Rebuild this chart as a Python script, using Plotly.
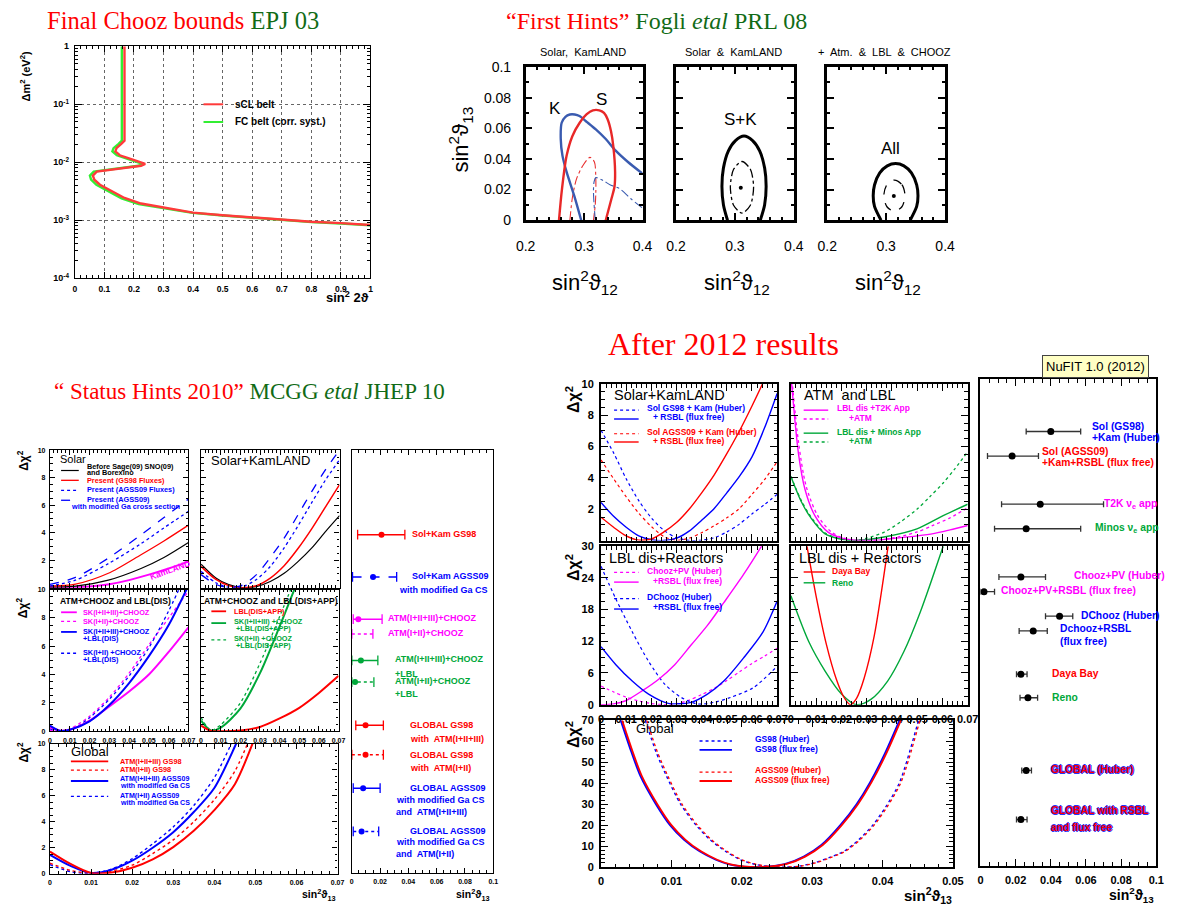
import plotly.graph_objects as go

# layout coordinates below are pixels of the 1183 x 918 figure
W, H = 1183, 918

SANS = "Liberation Sans"
SERIF = "Liberation Serif"
RED = "#ff0000"
BLUE = "#0000ff"
MAG = "#ff00ff"
GRN = "#00a83a"
TGRN = "#116b16"

# ---------------- Final CHOOZ exclusion contours (sin^2 2theta, dm^2 [eV^2]) ----------------
chooz_scl_s2t = [0.168, 0.168, 0.157, 0.141, 0.137, 0.152, 0.191, 0.238, 0.224, 0.146, 0.074, 0.061, 0.066,
                 0.085, 0.113, 0.168, 0.224, 0.30, 0.40, 0.50, 0.60, 0.70, 0.80, 0.90, 1.00]
chooz_scl_dm2 = [1.0, 0.0236, 0.0207, 0.0175, 0.0154, 0.0132, 0.0113, 0.0094, 0.0087, 0.0078, 0.0069, 0.0059,
                 0.0050, 0.0041, 0.0034, 0.00242, 0.00194, 0.00164, 0.00135, 0.00122, 0.00111, 0.00101,
                 0.00094, 0.00089, 0.00083]
chooz_fc_s2t = [0.159, 0.159, 0.148, 0.131, 0.127, 0.142, 0.181, 0.229, 0.215, 0.136, 0.064, 0.051, 0.055,
                0.073, 0.101, 0.158, 0.216, 0.295, 0.398, 0.50, 0.60, 0.70, 0.80, 0.90, 1.00]
chooz_fc_dm2 = [1.0, 0.0236, 0.0207, 0.0175, 0.0154, 0.0132, 0.0113, 0.0094, 0.0087, 0.0078, 0.0069, 0.0059,
                0.0050, 0.0041, 0.0034, 0.00238, 0.00190, 0.00162, 0.00134, 0.00121, 0.00110, 0.00100,
                0.00093, 0.00088, 0.00082]

# ---------------- "First hints": (sin^2 th12, sin^2 th13) contours ----------------
fh_kam_x = [0.295, 0.283, 0.270, 0.263, 0.260, 0.2616, 0.268, 0.2756, 0.284, 0.292, 0.305, 0.320, 0.337, 0.354, 0.375, 0.400]
fh_kam_y = [0.0, 0.016, 0.0315, 0.042, 0.0529, 0.0636, 0.0675, 0.069, 0.069, 0.068, 0.064, 0.0593, 0.053, 0.0454, 0.038, 0.0304]
fh_sol_x = [0.257, 0.262, 0.270, 0.280, 0.2924, 0.304, 0.315, 0.326, 0.334, 0.340, 0.346, 0.350, 0.353, 0.352, 0.347, 0.337]
fh_sol_y = [0.0, 0.020, 0.042, 0.055, 0.0636, 0.069, 0.0717, 0.0717, 0.070, 0.066, 0.058, 0.048, 0.0315, 0.022, 0.0143, 0.0]
fh_sol1_x = [0.2756, 0.280, 0.287, 0.298, 0.310, 0.3176, 0.320, 0.320, 0.319, 0.316]
fh_sol1_y = [0.0, 0.015, 0.027, 0.0357, 0.041, 0.038, 0.027, 0.018, 0.010, 0.0]
fh_kam1_x = [0.319, 0.316, 0.317, 0.320, 0.332, 0.345, 0.360, 0.380, 0.400]
fh_kam1_y = [0.0, 0.0186, 0.025, 0.0278, 0.026, 0.023, 0.0208, 0.014, 0.0079]

fh_sk_x = [0.2875, 0.2806, 0.278, 0.2805, 0.289, 0.301, 0.3155, 0.330, 0.342, 0.3505, 0.353, 0.3504, 0.343]
fh_sk_y = [0.0, 0.010, 0.022, 0.034, 0.0453, 0.052, 0.055, 0.052, 0.0453, 0.034, 0.022, 0.010, 0.0]
fh_sk1_x = [0.312, 0.326, 0.3317, 0.326, 0.312, 0.298, 0.2923, 0.298, 0.312]
fh_sk1_y = [0.0383, 0.0334, 0.0215, 0.0096, 0.0047, 0.0096, 0.0215, 0.0334, 0.0383]
fh_sk_best = (0.310, 0.0212)

fh_all_x = [0.2913, 0.2802, 0.278, 0.2802, 0.2891, 0.3019, 0.316, 0.3301, 0.3429, 0.3518, 0.354, 0.3518, 0.3407]
fh_all_y = [0.0, 0.009, 0.016, 0.023, 0.0309, 0.0355, 0.037, 0.0355, 0.0309, 0.023, 0.016, 0.009, 0.0]
fh_all1_x = [0.314, 0.3267, 0.332, 0.3267, 0.314, 0.3013, 0.296, 0.3013, 0.314]
fh_all1_y = [0.0262, 0.0232, 0.016, 0.0088, 0.0058, 0.0088, 0.016, 0.0232, 0.0262]
fh_all_best = (0.313, 0.0158)

# ---------------- 2010 status: delta chi^2 vs sin^2 th13 ----------------
sol10_x = [0.0, 0.0129, 0.0295, 0.046, 0.0576, 0.07]
sol10_before = [0.05, 0.12, 0.55, 1.40, 2.20, 3.29]
sol10_gs98 = [0.12, 0.26, 1.05, 2.40, 3.40, 4.55]
sol10_agss = [0.12, 0.55, 1.75, 3.20, 4.35, 5.55]
sol10_agss_ga = [0.25, 0.75, 2.15, 3.85, 5.10, 6.45]
kam10_x = [0.0, 0.01, 0.02, 0.03, 0.04, 0.05, 0.06, 0.07]
kam10_chi = [0.0, 0.02, 0.08, 0.25, 0.55, 0.95, 1.40, 1.90]

sk10_x = [0.0, 0.0075, 0.014, 0.021, 0.028, 0.035, 0.042, 0.049, 0.056, 0.063, 0.07]
sk10_before = [1.71, 0.71, 0.22, 0.0, 0.08, 0.45, 1.05, 1.90, 2.90, 4.10, 5.24]
sk10_gs98 = [1.55, 0.60, 0.15, 0.0, 0.15, 0.70, 1.60, 2.85, 4.30, 5.90, 7.50]
sk10_agss = [1.19, 0.36, 0.02, 0.08, 0.60, 1.55, 2.90, 4.50, 6.20, 7.85, 9.30]
sk10_agss_ga = [0.95, 0.24, 0.01, 0.20, 0.95, 2.20, 3.60, 5.30, 7.00, 8.60, 10.0]

atm10_x = [0.0, 0.005, 0.01, 0.02, 0.03, 0.04, 0.05, 0.06, 0.07]
atm10_sk123 = [0.28, 0.04, 0.10, 0.75, 1.75, 2.80, 4.00, 5.60, 7.34]
atm10_sk12 = [0.05, 0.0, 0.15, 1.05, 2.40, 4.10, 6.10, 8.00, 9.90]
atm10_sk123_lbl = [0.39, 0.02, 0.10, 0.70, 1.85, 3.40, 5.30, 7.50, 10.3]
atm10_sk12_lbl = [0.16, 0.02, 0.02, 0.95, 2.25, 3.90, 5.90, 8.50, 11.5]
app10_x = [0.0, 0.005, 0.01, 0.02, 0.03, 0.04, 0.05, 0.06, 0.07]
app10_lbl = [0.39, 0.02, 0.0, 0.05, 0.30, 0.90, 1.65, 2.70, 3.91]
app10_gx = [0.0, 0.005, 0.01, 0.02, 0.03, 0.04, 0.05]
app10_sk123 = [0.74, 0.05, 0.25, 1.60, 4.10, 7.40, 10.9]
app10_sk12 = [0.97, 0.05, 0.45, 2.00, 4.80, 8.10, 11.5]

glob10_x = [0.0, 0.005, 0.01, 0.015, 0.02, 0.025, 0.03, 0.035, 0.04, 0.045, 0.05]
glob10_gs98_123 = [1.70, 0.75, 0.05, 0.08, 0.45, 1.10, 2.05, 3.30, 4.90, 6.90, 10.6]
glob10_gs98_12 = [0.81, 0.25, 0.05, 0.20, 0.65, 1.55, 2.60, 4.00, 5.70, 7.90, 11.5]
glob10_agss_123 = [1.45, 0.60, 0.05, 0.30, 1.00, 2.00, 3.20, 4.75, 6.60, 9.80, 13.5]
glob10_agss_12 = [0.69, 0.15, 0.02, 0.35, 1.15, 2.30, 3.60, 5.25, 7.40, 10.6, 14.0]

# 2010 summary of sin^2 th13 ranges (best fit, 1 sigma)
res10_best = [0.021, 0.015, 0.0046, 0.0, 0.0064, 0.0023, 0.0097, 0.0097, 0.008, 0.0069]
res10_lo = [0.0041, 0.0005, 0.001, 0.0, 0.0, 0.0, 0.0028, 0.0, 0.001, 0.001]
res10_hi = [0.0375, 0.0317, 0.0214, 0.0149, 0.0184, 0.0156, 0.0223, 0.0223, 0.020, 0.019]
res10_row = [8.6, 12.9, 17.2, 18.7, 21.4, 23.6, 28.0, 31.0, 34.4, 38.8]
res10_color = [RED, BLUE, MAG, MAG, GRN, GRN, RED, RED, BLUE, BLUE]
res10_dash = ["solid", "dash", "solid", "dot", "solid", "dot", "solid", "dot", "solid", "dot"]

# ---------------- 2012 (NuFIT 1.0) ----------------
sk12_x = [0.0, 0.005, 0.01, 0.015, 0.02, 0.025, 0.03, 0.035, 0.04, 0.045, 0.05, 0.055, 0.06, 0.065, 0.07]
sk12_gs98_huber = [7.05, 5.60, 3.95, 2.55, 1.45, 0.65, 0.18, 0.01, 0.02, 0.18, 0.55, 1.05, 1.70, 2.30, 2.95]
sk12_gs98_free = [2.43, 1.55, 0.85, 0.30, 0.05, 0.0, 0.15, 0.60, 1.30, 2.05, 3.05, 4.10, 5.35, 7.20, 9.40]
sk12_agss_huber = [5.15, 3.95, 2.80, 1.75, 0.90, 0.25, 0.02, 0.15, 0.50, 0.95, 1.45, 2.05, 2.95, 3.90, 5.04]
sk12_agss_free = [1.49, 0.85, 0.30, 0.03, 0.10, 0.55, 1.15, 2.00, 3.05, 4.20, 5.55, 7.00, 8.60, 10.3, 12.2]

t2k_x = [0.0, 0.003, 0.0056, 0.0095, 0.0147, 0.02, 0.025, 0.03, 0.035, 0.0434, 0.05, 0.0564, 0.063, 0.07]
t2k_chi = [10.6, 5.56, 3.26, 1.59, 0.54, 0.17, 0.03, 0.0, 0.03, 0.19, 0.30, 0.44, 0.68, 0.96]
t2k_atm_x = [0.0, 0.003, 0.006, 0.0105, 0.016, 0.021, 0.026, 0.031, 0.036, 0.043, 0.05, 0.056, 0.063, 0.07]
t2k_atm_chi = [11.0, 6.30, 3.50, 1.62, 0.55, 0.15, 0.02, 0.0, 0.05, 0.25, 0.55, 0.95, 1.45, 2.10]
minos_x = [0.0, 0.0043, 0.0082, 0.0134, 0.0186, 0.025, 0.0369, 0.0499, 0.0603, 0.07]
minos_chi = [4.10, 2.43, 1.38, 0.44, 0.13, 0.0, 0.23, 0.75, 1.59, 2.32]
minos_atm_x = [0.0, 0.0043, 0.0082, 0.0134, 0.0186, 0.025, 0.03, 0.037, 0.0435, 0.0499, 0.055, 0.0603, 0.065, 0.07]
minos_atm_chi = [4.10, 2.50, 1.45, 0.50, 0.15, 0.0, 0.15, 0.54, 1.20, 2.00, 2.80, 3.68, 4.60, 5.67]

cpv_x = [0.0, 0.005, 0.01, 0.015, 0.02, 0.025, 0.03, 0.035, 0.04, 0.045, 0.05, 0.055, 0.06, 0.065, 0.07]
cpv_huber = [3.53, 2.40, 1.40, 0.70, 0.20, 0.02, 0.15, 0.85, 1.90, 3.10, 4.55, 6.20, 7.80, 9.20, 10.66]
cpv_free_x = [0.0, 0.005, 0.0098, 0.0163, 0.0228, 0.0293, 0.0358, 0.0423, 0.0488, 0.0566, 0.0638, 0.07]
cpv_free = [0.0, 0.15, 0.74, 2.6, 4.77, 7.56, 11.28, 15.0, 19.3, 24.6, 30.0, 35.0]
dc_huber_x = [0.0, 0.0059, 0.0124, 0.0189, 0.0254, 0.0319, 0.0384, 0.0449, 0.0514, 0.0605, 0.07]
dc_huber = [26.2, 20.0, 13.8, 8.2, 3.84, 1.36, 0.12, 0.43, 1.36, 3.2, 7.25]
dc_free_x = [0.0, 0.0059, 0.0124, 0.0189, 0.0267, 0.0358, 0.0423, 0.0488, 0.0566, 0.0644, 0.07]
dc_free = [10.97, 7.56, 4.46, 1.98, 0.25, 0.43, 1.98, 4.46, 8.8, 13.76, 19.6]
dayabay_x = [0.0060, 0.0100, 0.0140, 0.0180, 0.0210, 0.0235, 0.0260, 0.0290, 0.0330, 0.0385]
dayabay_chi = [31.0, 20.5, 11.5, 4.8, 1.4, 0.0, 1.2, 5.0, 13.0, 30.0]
reno_x = [0.0, 0.0071, 0.0136, 0.0201, 0.0259, 0.0318, 0.0383, 0.0447, 0.0512, 0.0603]
reno_chi = [20.6, 11.9, 6.32, 1.98, 0.0, 1.05, 4.46, 10.0, 17.5, 30.0]

glob12_free_x = [0.0030, 0.0045, 0.0058, 0.0080, 0.0100, 0.0120, 0.0142, 0.0165, 0.0184, 0.0205, 0.0225,
                 0.0245, 0.0265, 0.0290, 0.0315, 0.0342, 0.0365, 0.0384, 0.0405, 0.0426]
glob12_free_gs98_x = [0.0028, 0.0043, 0.0056, 0.0078, 0.0098, 0.0118, 0.0140, 0.0163, 0.0182, 0.0203, 0.0223,
                      0.0243, 0.0263, 0.0288, 0.0313, 0.0340, 0.0363, 0.0382, 0.0403, 0.0424]
glob12_free_chi = [70, 55, 43.4, 30, 20, 13, 7.5, 3.5, 1.3, 0.2, 0.0, 0.4, 1.6, 5.0, 10.5, 20, 30, 40.3, 54, 70]
glob12_huber_x = [0.0065, 0.0080, 0.0095, 0.0115, 0.0137, 0.0157, 0.0179, 0.0200, 0.0221, 0.0242, 0.0263,
                  0.0284, 0.0305, 0.0326, 0.0347, 0.0368, 0.0388, 0.0407, 0.0426, 0.0453]
glob12_huber_gs98_x = [0.0063, 0.0078, 0.0093, 0.0113, 0.0135, 0.0155, 0.0177, 0.0198, 0.0219, 0.0240, 0.0261,
                       0.0282, 0.0303, 0.0324, 0.0345, 0.0366, 0.0386, 0.0405, 0.0424, 0.0451]
glob12_huber_chi = [70, 55, 43.4, 30, 20, 13, 7.5, 3.5, 1.25, 0.2, 0.0, 0.5, 2.0, 4.5, 7.5, 13, 20, 29, 40.3, 70]

# 2012 summary of sin^2 th13 (best fit, 1 sigma range)
res12_best = [0.040, 0.018, 0.034, 0.026, 0.023, 0.002, 0.045, 0.030, 0.023, 0.027, 0.026, 0.023]
res12_lo = [0.026, 0.004, 0.012, 0.008, 0.0105, 0.0, 0.037, 0.022, 0.0205, 0.0225, 0.0235, 0.0205]
res12_hi = [0.057, 0.033, 0.070, 0.057, 0.037, 0.008, 0.0525, 0.038, 0.0265, 0.0325, 0.029, 0.0265]
res12_row = [5.3, 7.8, 12.7, 15.2, 20.1, 21.6, 24.1, 25.6, 30.0, 32.4, 39.8, 44.8]

# ---------------- helpers ----------------
fig = go.Figure()
axes = {}
annotations = []
shapes = []


def fx(px):
    return px / W


def fy(py):
    return 1 - py / H


def panel(n, l, r, t, b, xcfg, ycfg):
    s = "" if n == 1 else str(n)
    axes["xaxis" + s] = dict(xcfg, domain=[fx(l), fx(r)], anchor="y" + s)
    axes["yaxis" + s] = dict(ycfg, domain=[fy(b), fy(t)], anchor="x" + s)
    return "x" + s, "y" + s


def frame(rng, dtick=None, minor=None, labels=True, size=7, lw=1.2, tlen=5, standoff=2,
          tickvals=None, weight="bold", tickw=1):
    d = dict(range=rng, showgrid=False, zeroline=False, showline=True, mirror="ticks",
             linecolor="black", linewidth=lw, ticks="inside", ticklen=tlen, tickwidth=tickw,
             tickcolor="black", showticklabels=labels, ticklabelstandoff=standoff,
             tickfont=dict(family=SANS, size=size, color="black", weight=weight))
    if tickvals is not None:
        d["tickvals"] = tickvals
    elif dtick is not None:
        d["tick0"] = 0
        d["dtick"] = dtick
    else:
        d["ticks"] = ""
    if minor is not None:
        d["minor"] = dict(tick0=0, dtick=minor, ticks="inside", ticklen=tlen * 0.5,
                          tickwidth=tickw, tickcolor="black", showgrid=False)
    return d


def curve(xa, ya, x, y, color, dash="solid", width=1.5, shape="spline"):
    fig.add_trace(go.Scatter(x=x, y=y, xaxis=xa, yaxis=ya, mode="lines",
                             line=dict(color=color, dash=dash, width=width, shape=shape, smoothing=0.8),
                             showlegend=False, hoverinfo="skip"))


def text(px, py, s, size, color="black", anchor="left", weight="bold", family=SANS, angle=0, **font_extra):
    annotations.append(dict(x=fx(px), y=fy(py), xref="paper", yref="paper", text=s,
                            showarrow=False, xanchor=anchor, yanchor="middle", textangle=angle,
                            borderpad=0,
                            font=dict(family=family, size=size, color=color, weight=weight, **font_extra)))


def sample(x0, x1, py, color, dash="solid", width=1.5):
    shapes.append(dict(type="line", xref="paper", yref="paper", x0=fx(x0), x1=fx(x1),
                       y0=fy(py), y1=fy(py), line=dict(color=color, dash=dash, width=width)))


# ---------------- titles ----------------
def title(px, py, s, size=24):
    text(px, py, s, size, anchor="left", weight="normal", family=SERIF)


title(37, 13, f"<span style='color:{RED}'>Final Chooz bounds</span> <span style='color:{TGRN}'>EPJ 03</span>", 24.5)
title(504, 13, f"<span style='color:{RED}'>\u201cFirst Hints\u201d</span> <span style='color:{TGRN}'>Fogli <i>etal</i> PRL 08</span>")
title(44, 390, f"<span style='color:{RED}'>\u201c Status Hints 2010\u201d</span> <span style='color:{TGRN}'>MCGG <i>etal</i> JHEP 10</span>", 23)
title(608, 342, f"<span style='color:{RED}'>After 2012 results</span>", 32)

# ---------------- Final CHOOZ panel ----------------
log_minor = [m * 10.0 ** e for e in range(-4, 0) for m in range(2, 10)]
xc = frame([0, 1], dtick=0.1, minor=0.02, size=8.5, standoff=2, lw=1.2, tlen=6)
xc.update(showgrid=True, gridcolor="#666", griddash="dot", gridwidth=1)
yc = dict(type="log", range=[-4, 0], showgrid=True, gridcolor="#666", griddash="dot", gridwidth=1,
          zeroline=False, showline=True, mirror="ticks", linecolor="black", linewidth=1.2,
          ticks="inside", ticklen=7, tickcolor="black",
          tickvals=[1e-4, 1e-3, 1e-2, 1e-1, 1],
          ticktext=["10<sup>-4</sup>", "10<sup>-3</sup>", "10<sup>-2</sup>", "10<sup>-1</sup>", "1"],
          ticklabelstandoff=3,
          tickfont=dict(family=SANS, size=9, color="black", weight="bold"),
          minor=dict(tickvals=log_minor, ticks="inside", ticklen=3, tickcolor="black", showgrid=False))
xa, ya = panel(1, 66, 367, 39, 275, xc, yc)
curve(xa, ya, chooz_fc_s2t, chooz_fc_dm2, "#33ee33", width=2.4, shape="linear")
curve(xa, ya, chooz_scl_s2t, chooz_scl_dm2, "#ff3a3a", width=2.4, shape="linear")
sample(197, 217, 98, "#ff3a3a", width=2)
sample(197, 217, 116, "#33ee33", width=2)
text(228, 98, "sCL belt", 10)
text(228, 116, "FC belt (corr. syst.)", 10)
text(366, 294, "sin<sup>2</sup> 2\u03d1", 13, anchor="right")
text(15, 70, "\u0394m<sup>2</sup> (eV<sup>2</sup>)", 11, anchor="center", angle=-90)

# ---------------- First hints panels ----------------
fh_boxes = [(525, 644), (678, 798), (832, 952)]
fh_axes = []
for i, (l, r) in enumerate(fh_boxes):
    xcfg = frame([0.2, 0.4], dtick=0.1, minor=0.02, size=14, lw=2.5, tlen=7, standoff=11,
                 weight="normal", tickw=1.5)
    ycfg = frame([0, 0.1], dtick=0.02, minor=0.01, size=14, lw=2.5, tlen=7, standoff=9,
                 labels=(i == 0), weight="normal", tickw=1.5)
    fh_axes.append(panel(2 + i, l, r, 60, 216, xcfg, ycfg))

xa, ya = fh_axes[0]
curve(xa, ya, fh_sol1_x, fh_sol1_y, "#e83030", dash="dashdot", width=1.1)
curve(xa, ya, fh_kam1_x, fh_kam1_y, "#3a5bb0", dash="dashdot", width=1.1)
curve(xa, ya, fh_kam_x, fh_kam_y, "#3a5bb0", width=2.4)
curve(xa, ya, fh_sol_x, fh_sol_y, "#e82828", width=2.4)
xa, ya = fh_axes[1]
curve(xa, ya, fh_sk_x, fh_sk_y, "black", width=3)
curve(xa, ya, fh_sk1_x, fh_sk1_y, "black", dash="dashdot", width=1.3)
fig.add_trace(go.Scatter(x=[fh_sk_best[0]], y=[fh_sk_best[1]], xaxis=xa, yaxis=ya, mode="markers",
                         marker=dict(color="black", size=4), showlegend=False, hoverinfo="skip"))
xa, ya = fh_axes[2]
curve(xa, ya, fh_all_x, fh_all_y, "black", width=3)
curve(xa, ya, fh_all1_x, fh_all1_y, "black", dash="dash", width=1.3)
fig.add_trace(go.Scatter(x=[fh_all_best[0]], y=[fh_all_best[1]], xaxis=xa, yaxis=ya, mode="markers",
                         marker=dict(color="black", size=4), showlegend=False, hoverinfo="skip"))

for (xa_, ya_), lab, lx, ly in [(fh_axes[0], "K", 0.2504, 0.0726), (fh_axes[0], "S", 0.330, 0.0786),
                                (fh_axes[1], "S+K", 0.309, 0.0657), (fh_axes[2], "All", 0.3076, 0.0465)]:
    annotations.append(dict(x=lx, y=ly, xref=xa_, yref=ya_, text=lab, showarrow=False,
                            font=dict(family=SANS, size=17, color="black")))

text(583, 45, "Solar,  KamLAND", 11, anchor="center", weight="normal")
text(737, 45, "Solar  &  KamLAND", 11, anchor="center", weight="normal")
text(890, 45, "+  Atm.  &  LBL  &  CHOOZ", 11, anchor="center", weight="normal")
for cx in (585, 740, 894):
    text(cx, 279, "sin<sup>2</sup>\u03d1<sub>12</sub>", 22, anchor="center", weight="normal")
text(459, 134, "sin<sup>2</sup>\u03d1<sub>13</sub>", 22, anchor="center", weight="normal", angle=-90)

# ---------------- 2010 panels ----------------
def f10(rng, dtick, minor, labels, tickvals=None):
    return frame(rng, dtick=dtick, minor=minor, labels=labels, size=7, lw=1.2, tlen=5, standoff=2,
                 tickvals=tickvals)


xa, ya = panel(5, 40.7, 181.7, 450, 590, f10([0, 0.07], 0.01, 0.002, False),
               f10([0, 10], None, 0.5, True, tickvals=[2, 4, 6, 8, 10]))
curve(xa, ya, kam10_x, kam10_chi, MAG, width=2)
curve(xa, ya, sol10_x, sol10_before, "black", width=1.2)
curve(xa, ya, sol10_x, sol10_gs98, RED, width=1.3)
curve(xa, ya, sol10_x, sol10_agss, BLUE, dash="dot", width=1.3)
curve(xa, ya, sol10_x, sol10_agss_ga, BLUE, dash="dash", width=1.3)

xa, ya = panel(6, 194.5, 335.5, 450, 590, f10([0, 0.07], 0.01, 0.002, False),
               f10([0, 10], 2, 0.5, False))
curve(xa, ya, sk10_x, sk10_before, "black", width=1.2)
curve(xa, ya, sk10_x, sk10_gs98, RED, width=1.5)
curve(xa, ya, sk10_x, sk10_agss, BLUE, dash="dot", width=1.3)
curve(xa, ya, sk10_x, sk10_agss_ga, BLUE, dash="dash", width=1.3)

xa, ya = panel(7, 40.7, 181.7, 592, 736, f10([0, 0.07], 0.01, 0.002, True),
               f10([0, 10], 2, 0.5, True))
curve(xa, ya, atm10_x, atm10_sk12, MAG, dash="dot", width=1.3)
curve(xa, ya, atm10_x, atm10_sk12_lbl, BLUE, dash="dot", width=1.3)
curve(xa, ya, atm10_x, atm10_sk123, MAG, width=2)
curve(xa, ya, atm10_x, atm10_sk123_lbl, BLUE, width=2)

xa, ya = panel(8, 194.5, 334.5, 592, 736, f10([0, 0.07], 0.01, 0.002, True),
               f10([0, 10], 2, 0.5, False))
curve(xa, ya, app10_gx, app10_sk12, GRN, dash="dot", width=1.3)
curve(xa, ya, app10_gx, app10_sk123, GRN, width=2)
curve(xa, ya, app10_x, app10_lbl, RED, width=2)

xa, ya = panel(9, 40.7, 333.5, 749, 881, f10([0, 0.07], 0.01, 0.002, True),
               f10([0, 10], 2, 0.5, True))
curve(xa, ya, glob10_x, glob10_agss_12, BLUE, dash="dot", width=1.4)
curve(xa, ya, glob10_x, glob10_gs98_12, RED, dash="dot", width=1.4)
curve(xa, ya, glob10_x, glob10_agss_123, BLUE, width=2)
curve(xa, ya, glob10_x, glob10_gs98_123, RED, width=2)

xa, ya = panel(10, 348, 492, 450, 880, f10([0, 0.1], 0.02, 0.005, True), f10([43, 0], None, None, False))
for i in range(len(res10_best)):
    c = res10_color[i]
    fig.add_trace(go.Scatter(x=[res10_lo[i], res10_hi[i]], y=[res10_row[i], res10_row[i]], xaxis=xa, yaxis=ya,
                             mode="lines+markers", line=dict(color=c, dash=res10_dash[i], width=1.5),
                             marker=dict(symbol="line-ns", size=7, line=dict(color=c, width=1.3)),
                             showlegend=False, hoverinfo="skip"))
    if res10_best[i] > 0:
        fig.add_trace(go.Scatter(x=[res10_best[i]], y=[res10_row[i]], xaxis=xa, yaxis=ya, mode="markers",
                                 marker=dict(color=c, size=6), showlegend=False, hoverinfo="skip"))

# legends / labels (2010)
for py in (460, 610, 757):
    text(13, py, "\u0394\u03c7<sup>2</sup>", 12, anchor="center", angle=-90)
text(50, 459, "Solar", 11, weight="normal")
sample(52, 70, 470.7, "black", width=1.2)
sample(52, 70, 480.7, RED, width=1.3)
sample(52, 70, 491, BLUE, dash="dot", width=1.3)
sample(52, 70, 501, BLUE, dash="dash", width=1.3)
text(77, 466.5, "Before Sage(09) SNO(09)", 7.3)
text(77, 472.3, "and Borexino", 7.3)
text(77, 480.5, "Present (GS98 Fluxes)", 7.3, RED)
text(77, 490.5, "Present (AGSS09 Fluxes)", 7.3, BLUE)
text(77, 500.3, "Present (AGSS09)", 7.3, BLUE)
text(61, 507.7, "with modified Ga cross section", 7.3, BLUE)
text(163, 572, "KamLAND", 8.5, MAG, anchor="center", angle=-20)
text(204, 461, "Solar+KamLAND", 13, weight="normal")

text(50, 604, "ATM+CHOOZ and LBL(DIS)", 8.6)
sample(52, 68, 615, MAG, width=1.8)
sample(52, 68, 624.3, MAG, dash="dot", width=1.3)
sample(52, 68, 635, BLUE, width=1.8)
sample(52, 68, 656.7, BLUE, dash="dot", width=1.3)
text(73, 615, "SK(I+II+III)+CHOOZ", 7.3, MAG)
text(73, 624.3, "SK(I+II)+CHOOZ", 7.3, MAG)
text(73, 635, "SK(I+II+III)+CHOOZ", 7.3, BLUE)
text(73, 642, "+LBL(DIS)", 7.3, BLUE)
text(73, 656, "SK(I+II) +CHOOZ", 7.3, BLUE)
text(73, 663.5, "+LBL(DIS)", 7.3, BLUE)

text(196, 604, "ATM+CHOOZ and LBL(DIS+APP)", 8.6)
sample(205, 220, 614, RED, width=1.8)
sample(205, 220, 626, GRN, width=1.8)
sample(205, 220, 643, GRN, dash="dot", width=1.3)
text(227, 614, "LBL(DIS+APP)", 7.3, RED)
text(227, 624, "SK(I+II+III) +CHOOZ", 7.3, GRN)
text(229, 631.5, "+LBL(DIS+APP)", 7.3, GRN)
text(227, 642, "SK(I+II) +CHOOZ", 7.3, GRN)
text(229, 649.3, "+LBL(DIS+APP)", 7.3, GRN)

text(61, 757, "Global", 13, weight="normal")
sample(62, 100, 766.7, RED, width=1.8)
sample(62, 100, 775.7, RED, dash="dot", width=1.3)
sample(62, 100, 786.7, BLUE, width=1.8)
sample(62, 100, 802.3, BLUE, dash="dot", width=1.3)
text(111, 766.5, "ATM(I+II+III) GS98", 7.3, RED)
text(111, 775.5, "ATM(I+II) GS98", 7.3, RED)
text(111, 784.7, "ATM(I+II+III) AGSS09", 7.1, BLUE)
text(111, 791.7, "with modified Ga CS", 7.1, BLUE)
text(111, 801.7, "ATM(I+II) AGSS09", 7.1, BLUE)
text(111, 809, "with modified Ga CS", 7.1, BLUE)
text(333, 903, "sin<sup>2</sup>\u03d1<sub>13</sub>", 10.5, anchor="right")
text(490, 903, "sin<sup>2</sup>\u03d1<sub>13</sub>", 10.5, anchor="right")

res10_labels = [
    ("Sol+Kam GS98", RED, 408, 535), ("Sol+Kam AGSS09", BLUE, 408, 578), ("with modified Ga CS", BLUE, 395, 592),
    ("ATM(I+II+III)+CHOOZ", MAG, 384, 621), ("ATM(I+II)+CHOOZ", MAG, 384, 636),
    ("ATM(I+II+III)+CHOOZ", GRN, 391, 663), ("+LBL", GRN, 391, 678),
    ("ATM(I+II)+CHOOZ", GRN, 391, 685), ("+LBL", GRN, 391, 698),
    ("GLOBAL GS98", RED, 406, 730), ("with  ATM(I+II+III)", RED, 406, 744),
    ("GLOBAL GS98", RED, 406, 760), ("with  ATM(I+II)", RED, 406, 773),
    ("GLOBAL AGSS09", BLUE, 406, 794), ("with modified Ga CS", BLUE, 392, 806), ("and  ATM(I+II+III)", BLUE, 392, 818),
    ("GLOBAL AGSS09", BLUE, 406, 838), ("with modified Ga CS", BLUE, 392, 849), ("and  ATM(I+II)", BLUE, 392, 861),
]
for s, c, px, py in res10_labels:
    text(px, py, s, 9, c)

# ---------------- 2012 panels ----------------
def f12(rng, dtick, minor, labels, tickvals=None):
    return frame(rng, dtick=dtick, minor=minor, labels=labels, size=11, lw=2, tlen=7, standoff=3,
                 tickvals=tickvals, tickw=1.2)


xa, ya = panel(11, 601.7, 781, 382.7, 542, f12([0, 0.07], 0.01, 0.002, False),
               f12([0, 10], None, 0.5, True, tickvals=[2, 4, 6, 8, 10]))
curve(xa, ya, sk12_x, sk12_gs98_huber, BLUE, dash="dot", width=1.2)
curve(xa, ya, sk12_x, sk12_agss_huber, RED, dash="dot", width=1.2)
curve(xa, ya, sk12_x, sk12_gs98_free, BLUE, width=1.4)
curve(xa, ya, sk12_x, sk12_agss_free, RED, width=1.4)

xa, ya = panel(12, 795, 975, 382.7, 542, f12([0, 0.07], 0.01, 0.002, False),
               f12([0, 10], 2, 0.5, False))
curve(xa, ya, minos_atm_x, minos_atm_chi, GRN, dash="dot", width=1.3)
curve(xa, ya, t2k_atm_x, t2k_atm_chi, MAG, dash="dot", width=1.3)
curve(xa, ya, minos_x, minos_chi, GRN, width=1.4)
curve(xa, ya, t2k_x, t2k_chi, MAG, width=1.4)

xa, ya = panel(13, 601.7, 781, 547.7, 709, f12([0, 0.07], 0.01, 0.002, True),
               f12([0, 30], 6, 1.5, True))
curve(xa, ya, cpv_x, cpv_huber, MAG, dash="dot", width=1.2)
curve(xa, ya, dc_huber_x, dc_huber, BLUE, dash="dot", width=1.2)
curve(xa, ya, cpv_free_x, cpv_free, MAG, width=1.4)
curve(xa, ya, dc_free_x, dc_free, BLUE, width=1.4)

xa, ya = panel(14, 795, 975, 547.7, 709, f12([0, 0.07], 0.01, 0.002, True),
               f12([0, 30], 6, 1.5, False))
curve(xa, ya, reno_x, reno_chi, GRN, width=1.4)
curve(xa, ya, dayabay_x, dayabay_chi, RED, width=1.4)

xa, ya = panel(15, 601.7, 960, 725, 874.3, f12([0, 0.05], 0.01, 0.002, True),
               f12([0, 70], 10, 2, True))
curve(xa, ya, glob12_huber_gs98_x, glob12_huber_chi, BLUE, dash="dot", width=1.3)
curve(xa, ya, glob12_huber_x, glob12_huber_chi, RED, dash="dot", width=1.3)
curve(xa, ya, glob12_free_gs98_x, glob12_free_chi, BLUE, width=1.8)
curve(xa, ya, glob12_free_x, glob12_free_chi, RED, width=1.8)

xa, ya = panel(16, 988, 1167, 378, 873, f12([0, 0.1], 0.02, 0.005, True), f12([49.5, 0], None, None, False))
fig.add_trace(go.Scatter(
    x=res12_best, y=res12_row, xaxis=xa, yaxis=ya, mode="markers",
    marker=dict(color="black", size=7),
    error_x=dict(type="data", symmetric=False,
                 array=[h - b for h, b in zip(res12_hi, res12_best)],
                 arrayminus=[b - l for b, l in zip(res12_best, res12_lo)],
                 color="#333333", thickness=1.3, width=3),
    showlegend=False, hoverinfo="skip"))

# legends / labels (2012)
text(573, 398, "\u0394\u03c7<sup>2</sup>", 16, anchor="center", angle=-90)
text(573, 569, "\u0394\u03c7<sup>2</sup>", 16, anchor="center", angle=-90)
text(573, 739, "\u0394\u03c7<sup>2</sup>", 16, anchor="center", angle=-90)

text(614, 394, "Solar+KamLAND", 14.5, weight="normal")
sample(615, 640, 409.3, BLUE, dash="dot", width=1.2)
sample(615, 640, 418.3, BLUE, width=1.4)
sample(615, 640, 433.3, RED, dash="dot", width=1.2)
sample(615, 640, 441.7, RED, width=1.4)
text(648, 407.5, "Sol GS98 + Kam (Huber)", 8.5, BLUE)
text(654, 416.5, "+ RSBL (flux free)", 8.5, BLUE)
text(648, 432, "Sol AGSS09 + Kam (Huber)", 8.5, RED)
text(654, 440.5, "+ RSBL (flux free)", 8.5, RED)

text(807, 394, "ATM  and LBL", 14.5, weight="normal")
sample(808, 833, 409.3, MAG, width=1.4)
sample(808, 833, 418.3, MAG, dash="dot", width=1.3)
sample(808, 833, 432.7, GRN, width=1.4)
sample(808, 833, 441.7, GRN, dash="dot", width=1.3)
text(841, 407.5, "LBL dis +T2K App", 8.5, MAG)
text(853, 417.5, "+ATM", 8.5, MAG)
text(841, 431.5, "LBL dis + Minos App", 8.5, GRN)
text(853, 440.5, "+ATM", 8.5, GRN)

text(609, 560, "LBL dis+Reactors", 14.5, weight="normal")
sample(615, 640, 574.3, MAG, dash="dot", width=1.2)
sample(615, 640, 584.3, MAG, width=1.4)
sample(615, 640, 601, BLUE, dash="dot", width=1.2)
sample(615, 640, 611.7, BLUE, width=1.4)
text(647, 573, "Chooz+PV (Huber)", 8.5, MAG)
text(654, 583, "+RSBL (flux free)", 8.5, MAG)
text(647, 599, "DChooz (Huber)", 8.5, BLUE)
text(654, 610, "+RSBL (flux free)", 8.5, BLUE)

text(802, 560, "LBL dis + Reactors", 14.5, weight="normal")
sample(808, 830, 574, RED, width=1.4)
sample(808, 830, 585, GRN, width=1.4)
text(836, 573, "Daya Bay", 8.5, RED)
text(836, 585, "Reno", 8.5, GRN)

text(636, 733, "Global", 13, weight="normal")
sample(702, 735, 746, BLUE, dash="dot", width=1.3)
sample(702, 735, 755, BLUE, width=1.8)
sample(702, 735, 777.7, RED, dash="dot", width=1.3)
sample(702, 735, 786.7, RED, width=1.8)
text(757, 744.3, "GS98 (Huber)", 8.5, BLUE)
text(757, 754.3, "GS98 (flux free)", 8.5, BLUE)
text(757, 776, "AGSS09 (Huber)", 8.5, RED)
text(757, 786, "AGSS09 (flux free)", 8.5, RED)
text(960, 903, "sin<sup>2</sup>\u03d1<sub>13</sub>", 15, anchor="right")
text(1166, 903, "sin<sup>2</sup>\u03d1<sub>13</sub>", 14, anchor="right")

res12_labels = [
    ("Sol (GS98)", BLUE, 1101, 426), ("+Kam (Huber)", BLUE, 1101, 437),
    ("Sol (AGSS09)", RED, 1050, 451), ("+Kam+RSBL (flux free)", RED, 1050, 463),
    ("T2K \u03bd<sub>e</sub> app", MAG, 1113, 505), ("Minos \u03bd<sub>e</sub> app", GRN, 1104, 530),
    ("Chooz+PV (Huber)", MAG, 1082, 578), ("Chooz+PV+RSBL (flux free)", MAG, 1008, 593),
    ("DChooz (Huber)", BLUE, 1089, 618), ("Dchooz+RSBL", BLUE, 1068, 632), ("(flux free)", BLUE, 1068, 645),
    ("Daya Bay", RED, 1060, 677), ("Reno", GRN, 1060, 702),
]
for s, c, px, py in res12_labels:
    text(px, py, s, 10.3, c)
outline = "1px 0 0 #2233ff, -1px 0 0 #2233ff, 0 1px 0 #2233ff, 0 -1px 0 #2233ff"
for s, py in [("GLOBAL (Huber)", 775), ("GLOBAL with RSBL", 817), ("and flux free", 834)]:
    text(1059, py, s, 10.3, RED, shadow=outline)

annotations.append(dict(x=fx(1105), y=fy(365), xref="paper", yref="paper", text="NuFIT 1.0 (2012)",
                        showarrow=False, xanchor="center", yanchor="middle", bgcolor="#ffffc4",
                        bordercolor="#444", borderwidth=1, borderpad=3,
                        font=dict(family=SANS, size=13, color="black")))

fig.update_layout(width=W, height=H, margin=dict(l=0, r=0, t=0, b=0), paper_bgcolor="white",
                  plot_bgcolor="white", showlegend=False, annotations=annotations, shapes=shapes, **axes)
fig.write_html("out.html")
